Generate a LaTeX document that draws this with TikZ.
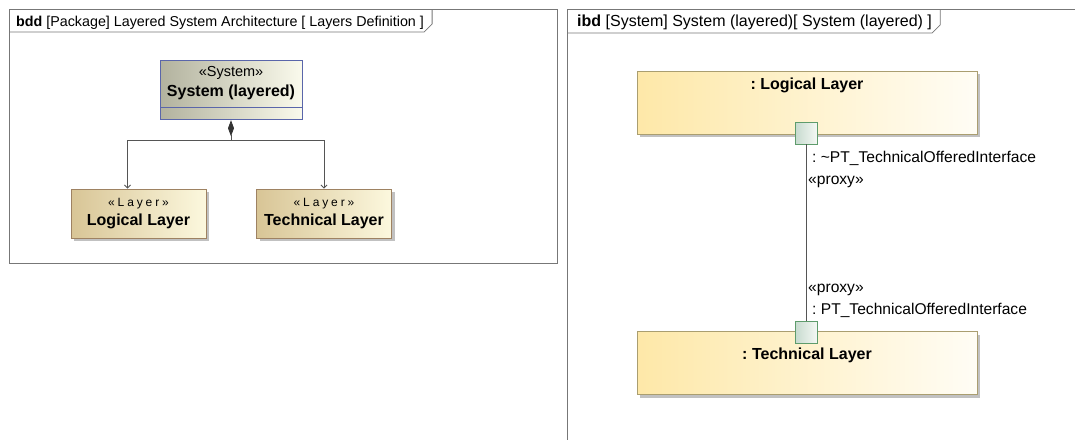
\documentclass[tikz,border=0pt]{standalone}
\usepackage{fontspec}
\setmainfont{Liberation Sans}
\newfontfamily\stereofont[LetterSpace=24]{Liberation Sans}
\usetikzlibrary{positioning,arrows.meta,shadows}
\tikzset{>=Straight Barb}
\definecolor{frameline}{HTML}{777777}
\definecolor{blockline}{HTML}{9E8262}
\definecolor{blockleft}{HTML}{D8C596}
\definecolor{blockright}{HTML}{FCF8DE}
\definecolor{sysline}{HTML}{5A66AA}
\definecolor{sysleft}{HTML}{B2B29E}
\definecolor{sysright}{HTML}{FAFAEC}
\definecolor{partline}{HTML}{AA9E70}
\definecolor{partleft}{HTML}{FEE8A8}
\definecolor{partright}{HTML}{FFFDF5}
\definecolor{portline}{HTML}{5E9C6C}
\definecolor{portleft}{HTML}{C6DACE}
\definecolor{portright}{HTML}{F4F8F4}
\definecolor{wireline}{HTML}{555555}
\definecolor{diamondfill}{HTML}{333333}
\newcommand{\stereotag}[1]{{\stereofont\mdseries\fontsize{12}{14}\selectfont «#1»}}
\frenchspacing

\begin{document}
\begin{tikzpicture}[x=1pt,y=-1pt,
    framedraw/.style={draw=frameline, line width=0.8pt},
    tabtext/.style={font=\fontsize{14.3}{16}\selectfont, anchor=base west, inner sep=0pt},
    boxshadow/.style={drop shadow={shadow xshift=3pt, shadow yshift=-3pt, fill=black!30, opacity=0.8}},
    layerblock/.style={draw=blockline, line width=0.8pt, left color=blockleft, right color=blockright,
        minimum width=135pt, minimum height=49pt, inner sep=0pt, align=center,
        font=\fontsize{16}{19}\selectfont\bfseries, boxshadow},
    sysblock/.style={draw=sysline, line width=0.8pt, left color=sysleft, right color=sysright,
        minimum width=142pt, inner sep=0pt, align=center, font=\fontsize{16}{20}\selectfont\bfseries},
    partbox/.style={draw=partline, line width=0.8pt, left color=partleft, right color=partright,
        minimum width=340pt, minimum height=63pt, inner sep=0pt, boxshadow},
    partname/.style={font=\fontsize{16}{19}\selectfont\bfseries, anchor=base, inner sep=0pt},
    portbox/.style={draw=portline, line width=0.8pt, left color=portleft, right color=portright,
        minimum size=22pt, inner sep=0pt},
    portlabel/.style={font=\fontsize{15.6}{18}\selectfont, anchor=base west, inner sep=0pt},
    assoc/.style={draw=wireline, line width=0.8pt},
]
\useasboundingbox (0,0) rectangle (1075,439);

% bdd frame
\draw[framedraw] (9,9) rectangle (557,263);
\node[tabtext] (bddtitle) at (16,26) {\textbf{bdd} [Package] Layered System Architecture [ Layers Definition ]};
\coordinate (bddtabbase) at (9,32);
\draw[framedraw] (bddtabbase) -- (bddtitle.east |- bddtabbase) -- ++(8,-8) -- ++(0,-15);

% blocks
\node[sysblock, minimum height=47pt] (sys) at (231,83.5) {{\fontsize{14.5}{17}\selectfont\mdseries «System»}\\System (layered)};
\node[sysblock, minimum height=12pt, below=0pt of sys] (sysparts) {};
\node[layerblock] (log) at (138.5,213.5) {\stereotag{Layer}\\Logical Layer};
\node[layerblock] (tech) at (324,213.5) {\stereotag{Layer}\\Technical Layer};

% composition
\coordinate (fork) at (231,140);
\draw[assoc, {Diamond[length=16pt,width=6pt,fill=diamondfill,color=diamondfill]}->] (sysparts.south) -- (fork) -| ([xshift=-11pt]log.north);
\draw[assoc, ->] (fork) -| (tech.north);

% ibd frame
\draw[framedraw] (1076,9) -- (567,9) -- (567,440);
\node[tabtext, font=\fontsize{16}{18}\selectfont] (ibdtitle) at (577,26) {\textbf{ibd} [System] System (layered)[ System (layered) ]};
\coordinate (ibdtabbase) at (567,33);
\draw[framedraw] (ibdtabbase) -- (ibdtitle.east |- ibdtabbase) -- ++(8,-8) -- ++(0,-16);

% parts
\node[partbox] (logpart) at (807,102.5) {};
\node[partname] (logname) at (807,89) {: Logical Layer};
\node[partbox] (techpart) at (807,363) {};
\node[partname] (techname) at (807,359) {: Technical Layer};

% ports and connector
\node[portbox] (logport) at (806,133) {};
\node[portbox] (techport) at (806,332) {};
\draw[assoc] (logport.south) -- (techport.north);
\node[portlabel] (logtype) at (812,162) {: \textasciitilde PT\_TechnicalOfferedInterface};
\node[portlabel] (logproxy) at (808,184) {«proxy»};
\node[portlabel] (techproxy) at (808,292) {«proxy»};
\node[portlabel] (techtype) at (812,314) {: PT\_TechnicalOfferedInterface};
\end{tikzpicture}
\end{document}
